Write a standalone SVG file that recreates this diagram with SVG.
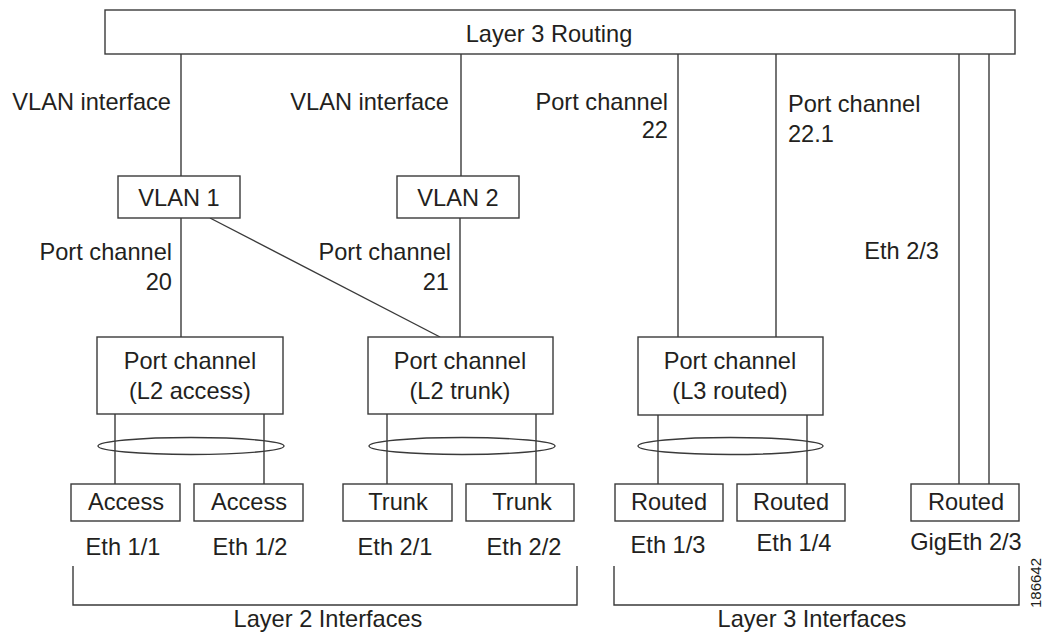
<svg xmlns="http://www.w3.org/2000/svg" width="1045" height="633" viewBox="0 0 1045 633">
<style>
.b{fill:#fff;stroke:#3a3a3a;stroke-width:1.4}
.l{fill:none;stroke:#3a3a3a;stroke-width:1.4}
text{font-family:"Liberation Sans",Arial,sans-serif;font-size:23.6px;fill:#231f20}
.c{text-anchor:middle}
.e{text-anchor:end}
</style>
<rect width="1045" height="633" fill="#fff"/>
<g id="connectors">
<line class="l" x1="181" y1="54" x2="181" y2="176"/>
<line class="l" x1="461" y1="54" x2="461" y2="176"/>
<line class="l" x1="678" y1="54" x2="678" y2="337"/>
<line class="l" x1="776" y1="54" x2="776" y2="337"/>
<line class="l" x1="959" y1="54" x2="959" y2="484"/>
<line class="l" x1="989" y1="54" x2="989" y2="484"/>
<line class="l" x1="181" y1="218" x2="181" y2="337"/>
<line class="l" x1="460" y1="218" x2="460" y2="337"/>
<line class="l" x1="210" y1="218" x2="440" y2="337"/>
<line class="l" x1="115" y1="414" x2="115" y2="484"/>
<line class="l" x1="264" y1="414" x2="264" y2="484"/>
<line class="l" x1="387" y1="414" x2="387" y2="484"/>
<line class="l" x1="536" y1="414" x2="536" y2="484"/>
<line class="l" x1="658" y1="415" x2="658" y2="484"/>
<line class="l" x1="807" y1="415" x2="807" y2="484"/>
<ellipse class="l" cx="191" cy="446" rx="93" ry="8.5"/>
<ellipse class="l" cx="462" cy="446" rx="93" ry="8.5"/>
<ellipse class="l" cx="730.5" cy="446" rx="92.5" ry="8.5"/>
</g>
<g id="labels">
<text class="e" x="171" y="110">VLAN interface</text>
<text class="e" x="449" y="110">VLAN interface</text>
<text class="e" x="668" y="110">Port channel</text>
<text class="e" x="668" y="138">22</text>
<text x="788" y="112">Port channel</text>
<text x="788" y="142">22.1</text>
<text class="e" x="172" y="260">Port channel</text>
<text class="e" x="172" y="290">20</text>
<text class="e" x="451" y="260">Port channel</text>
<text class="e" x="449" y="290">21</text>
<text class="e" x="939" y="259">Eth 2/3</text>
</g>
<g id="layer3">
<rect class="b" x="105" y="10" width="910" height="44"/>
<text class="c" x="549" y="42">Layer 3 Routing</text>
</g>
<g id="vlan1"><rect class="b" x="118" y="176" width="122" height="42"/><text class="c" x="179" y="206">VLAN 1</text></g>
<g id="vlan2"><rect class="b" x="397" y="176" width="122" height="42"/><text class="c" x="458" y="206">VLAN 2</text></g>
<g id="pc-access"><rect class="b" x="97" y="337" width="186" height="77"/><text class="c" x="190" y="369">Port channel</text><text class="c" x="190" y="399">(L2 access)</text></g>
<g id="pc-trunk"><rect class="b" x="368" y="337" width="185" height="77"/><text class="c" x="460" y="369">Port channel</text><text class="c" x="460" y="399">(L2 trunk)</text></g>
<g id="pc-routed"><rect class="b" x="638" y="337" width="185" height="78"/><text class="c" x="730" y="369">Port channel</text><text class="c" x="730" y="399">(L3 routed)</text></g>
<g id="access1"><rect class="b" x="71" y="484" width="109" height="37"/><text class="c" x="126" y="510">Access</text><text class="c" x="123" y="555">Eth 1/1</text></g>
<g id="access2"><rect class="b" x="194" y="484" width="109" height="37"/><text class="c" x="249" y="510">Access</text><text class="c" x="250" y="555">Eth 1/2</text></g>
<g id="trunk1"><rect class="b" x="343" y="484" width="109" height="37"/><text class="c" x="398" y="510">Trunk</text><text class="c" x="395" y="555">Eth 2/1</text></g>
<g id="trunk2"><rect class="b" x="466" y="484" width="108" height="37"/><text class="c" x="522" y="510">Trunk</text><text class="c" x="524" y="555">Eth 2/2</text></g>
<g id="routed1"><rect class="b" x="615" y="484" width="108" height="37"/><text class="c" x="669" y="510">Routed</text><text class="c" x="668" y="553">Eth 1/3</text></g>
<g id="routed2"><rect class="b" x="737" y="484" width="108" height="37"/><text class="c" x="791" y="510">Routed</text><text class="c" x="794" y="551">Eth 1/4</text></g>
<g id="routed3"><rect class="b" x="911" y="484" width="108" height="37"/><text class="c" x="966" y="510">Routed</text><text class="c" x="966" y="550">GigEth 2/3</text></g>
<g id="l2-interfaces"><polyline class="l" points="73,566 73,605 577,605 577,566"/><text class="c" x="328" y="627">Layer 2 Interfaces</text></g>
<g id="l3-interfaces"><polyline class="l" points="614,566 614,605 1019,605 1019,566"/><text class="c" x="812" y="627">Layer 3 Interfaces</text></g>
<text x="1041" y="583" text-anchor="middle" transform="rotate(-90 1041 583)" style="font-size:15px">186642</text>
</svg>
